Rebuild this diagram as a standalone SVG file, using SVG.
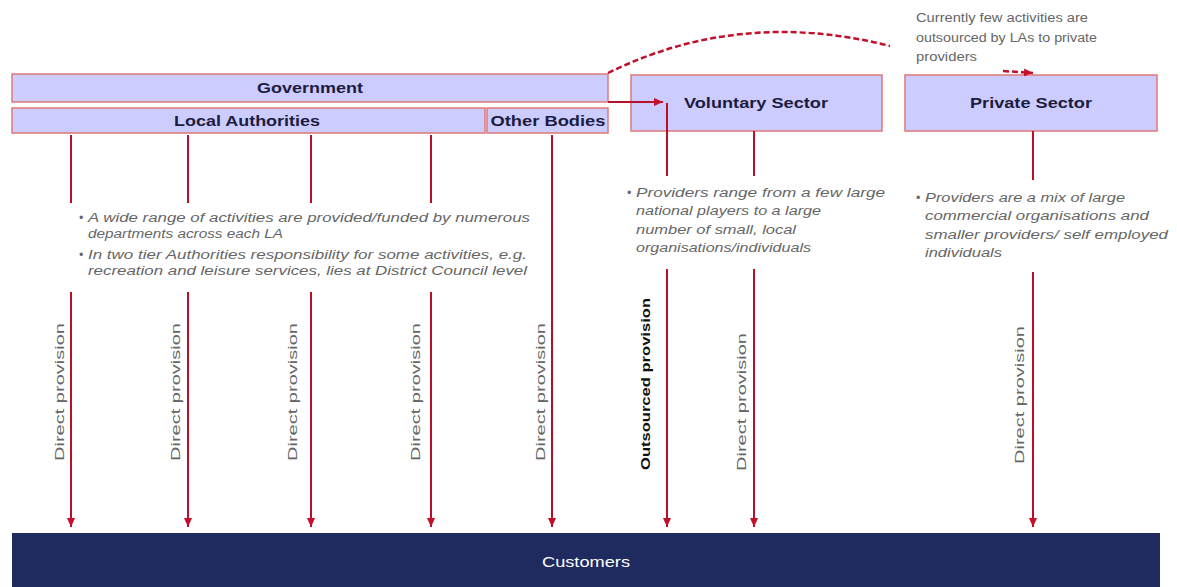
<svg xmlns="http://www.w3.org/2000/svg" width="1177" height="587" viewBox="0 0 1177 587">
<defs>
<style>
.box{fill:#ccccff;stroke:#e07878;stroke-width:1.5}
.lbl{font-family:"Liberation Sans",Arial,sans-serif;font-size:15px;font-weight:bold;fill:#1c1c40;text-anchor:middle}
.body{font-family:"Liberation Sans",Arial,sans-serif;font-size:12px;font-style:italic;fill:#666}
.note{font-family:"Liberation Sans",Arial,sans-serif;font-size:12px;fill:#666}
.vt{font-family:"Liberation Sans",Arial,sans-serif;font-size:13px;fill:#666;text-anchor:middle}
.vtb{font-family:"Liberation Sans",Arial,sans-serif;font-size:13px;font-weight:bold;fill:#111;text-anchor:middle}
.ln{fill:none;stroke:#b8102a;stroke-width:2}
.dash{fill:none;stroke:#c0102a;stroke-width:2.5;stroke-dasharray:6 3}
</style>
<marker id="ah" markerUnits="userSpaceOnUse" markerWidth="10" markerHeight="10" refX="9" refY="5" orient="auto">
<path d="M0,1 L9,5 L0,9 Z" fill="#c0102a"/>
</marker>
</defs>
<rect width="1177" height="587" fill="#fff"/>

<g id="government">
<rect class="box" x="12" y="74" width="596" height="28"/>
<text class="lbl" x="310" y="93" textLength="106" lengthAdjust="spacingAndGlyphs">Government</text>
</g>
<g id="local-authorities">
<rect class="box" x="12" y="108" width="473" height="25"/>
<text class="lbl" x="247" y="126" textLength="146" lengthAdjust="spacingAndGlyphs">Local Authorities</text>
</g>
<g id="other-bodies">
<rect class="box" x="487" y="108" width="121" height="25"/>
<text class="lbl" x="548" y="126" textLength="115" lengthAdjust="spacingAndGlyphs">Other Bodies</text>
</g>
<g id="voluntary-sector">
<rect class="box" x="631" y="75" width="251" height="56"/>
<text class="lbl" x="756" y="108" textLength="144" lengthAdjust="spacingAndGlyphs">Voluntary Sector</text>
</g>
<g id="private-sector">
<rect class="box" x="905" y="75" width="252" height="56"/>
<text class="lbl" x="1031" y="108" textLength="122" lengthAdjust="spacingAndGlyphs">Private Sector</text>
</g>
<g id="customers">
<rect x="12" y="533" width="1148" height="54" fill="#1f2a5e"/>
<text x="586" y="567" font-family="Liberation Sans,Arial,sans-serif" font-size="14" fill="#fff" text-anchor="middle" textLength="88" lengthAdjust="spacingAndGlyphs">Customers</text>
</g>

<g id="connectors">
<path class="ln" d="M71,135 V203 M71,292 V527" marker-end="url(#ah)"/>
<path class="ln" d="M188,135 V203 M188,292 V527" marker-end="url(#ah)"/>
<path class="ln" d="M311,135 V203 M311,292 V527" marker-end="url(#ah)"/>
<path class="ln" d="M431,135 V203 M431,292 V527" marker-end="url(#ah)"/>
<path class="ln" d="M552,135 V527" marker-end="url(#ah)"/>
<path class="ln" d="M608,102 H663" marker-end="url(#ah)"/>
<path class="ln" d="M667,103 V176 M667,269 V527" marker-end="url(#ah)"/>
<path class="ln" d="M754,131 V176 M754,269 V527" marker-end="url(#ah)"/>
<path class="ln" d="M1033,131 V180 M1033,272 V527" marker-end="url(#ah)"/>
<path class="dash" d="M608,73 Q740,8 890,46 M1003,71 L1033,73" marker-end="url(#ah)"/>
</g>

<g id="note-private">
<text class="note" x="916" y="22" textLength="172" lengthAdjust="spacingAndGlyphs">Currently few activities are</text>
<text class="note" x="916" y="42" textLength="181" lengthAdjust="spacingAndGlyphs">outsourced by LAs to private</text>
<text class="note" x="916" y="61" textLength="61" lengthAdjust="spacingAndGlyphs">providers</text>
</g>

<g id="la-notes">
<text class="body" x="79" y="222">•</text>
<text class="body" x="88" y="222" textLength="442" lengthAdjust="spacingAndGlyphs">A wide range of activities are provided/funded by numerous</text>
<text class="body" x="88" y="238" textLength="195" lengthAdjust="spacingAndGlyphs">departments across each LA</text>
<text class="body" x="79" y="259">•</text>
<text class="body" x="88" y="259" textLength="439" lengthAdjust="spacingAndGlyphs">In two tier Authorities responsibility for some activities, e.g.</text>
<text class="body" x="88" y="275" textLength="439" lengthAdjust="spacingAndGlyphs">recreation and leisure services, lies at District Council level</text>
</g>

<g id="voluntary-notes">
<text class="body" x="627" y="197">•</text>
<text class="body" x="636" y="197" textLength="249" lengthAdjust="spacingAndGlyphs">Providers range from a few large</text>
<text class="body" x="636" y="215" textLength="185" lengthAdjust="spacingAndGlyphs">national players to a large</text>
<text class="body" x="636" y="234" textLength="160" lengthAdjust="spacingAndGlyphs">number of small, local</text>
<text class="body" x="636" y="252" textLength="175" lengthAdjust="spacingAndGlyphs">organisations/individuals</text>
</g>

<g id="private-notes">
<text class="body" x="916" y="202">•</text>
<text class="body" x="925" y="202" textLength="200" lengthAdjust="spacingAndGlyphs">Providers are a mix of large</text>
<text class="body" x="925" y="220" textLength="224" lengthAdjust="spacingAndGlyphs">commercial organisations and</text>
<text class="body" x="925" y="239" textLength="243" lengthAdjust="spacingAndGlyphs">smaller providers/ self employed</text>
<text class="body" x="925" y="257" textLength="77" lengthAdjust="spacingAndGlyphs">individuals</text>
</g>

<g id="flow-labels">
<text class="vt" transform="translate(64,392) rotate(-90)" textLength="138" lengthAdjust="spacingAndGlyphs">Direct provision</text>
<text class="vt" transform="translate(180,392) rotate(-90)" textLength="138" lengthAdjust="spacingAndGlyphs">Direct provision</text>
<text class="vt" transform="translate(297,392) rotate(-90)" textLength="138" lengthAdjust="spacingAndGlyphs">Direct provision</text>
<text class="vt" transform="translate(420,392) rotate(-90)" textLength="138" lengthAdjust="spacingAndGlyphs">Direct provision</text>
<text class="vt" transform="translate(545,392) rotate(-90)" textLength="138" lengthAdjust="spacingAndGlyphs">Direct provision</text>
<text class="vtb" transform="translate(650,384) rotate(-90)" textLength="172" lengthAdjust="spacingAndGlyphs">Outsourced provision</text>
<text class="vt" transform="translate(746,402) rotate(-90)" textLength="138" lengthAdjust="spacingAndGlyphs">Direct provision</text>
<text class="vt" transform="translate(1024,395) rotate(-90)" textLength="138" lengthAdjust="spacingAndGlyphs">Direct provision</text>
</g>
</svg>
